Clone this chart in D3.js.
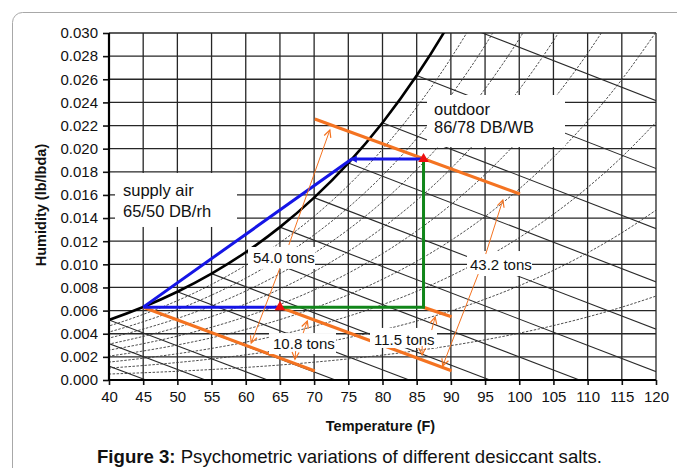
<!DOCTYPE html>
<html>
<head>
<meta charset="utf-8">
<script src="https://cdn.jsdelivr.net/npm/d3@7"></script>
<style>
  html, body { margin: 0; padding: 0; background: #ffffff; }
  svg text { font-family: "Liberation Sans", Arial, Helvetica, sans-serif; }
</style>
</head>
<body>
<script>
// ---------------- data ----------------
const xTicks = [40, 45, 50, 55, 60, 65, 70, 75, 80, 85, 90, 95, 100, 105, 110, 115, 120];
const yTicks = [0.000, 0.002, 0.004, 0.006, 0.008, 0.010, 0.012, 0.014, 0.016, 0.018, 0.020, 0.022, 0.024, 0.026, 0.028, 0.030];

// saturation table (dry-bulb F, saturation vapour pressure psia)
const satTemps    = [30, 35, 40, 45, 50, 55, 60, 65, 70, 75, 80, 85, 90, 95, 100, 105, 110, 115, 120];
const satPressure = [0.0808, 0.09998, 0.12173, 0.14756, 0.17811, 0.21413, 0.25639, 0.30579, 0.36334,
                     0.43016, 0.50745, 0.59659, 0.69904, 0.81643, 0.95052, 1.1032, 1.2767, 1.4730, 1.6945];
const rhLevels = [0.1, 0.2, 0.3, 0.4, 0.5, 0.6, 0.7, 0.8, 0.9];

// wet-bulb lines: start temp on saturation curve, dry-bulb temp where W reaches 0
const wbTemps     = [30, 35, 40, 45, 50, 55, 60, 65, 70, 75, 80, 85, 90];
const wbZeroTemps = [45.4, 54.1, 63.2, 73.1, 83.9, 95.7, 108.8, 123.2, 139.3, 157.2, 177.2, 199.7, 225.0];

// process lines (temperature F, humidity lb/lbda)
const bluePathA  = [[45, 0.0063], [75.5, 0.0191], [86, 0.0191]];
const bluePathB  = [[45, 0.0063], [65, 0.0063]];
const greenPath  = [[65, 0.0063], [86, 0.0063], [86, 0.0191]];
const orangeLines = [
  [[70.1, 0.02257], [100.1, 0.01608]],
  [[45, 0.0063], [70.1, 0.00078]],
  [[65, 0.0063], [90.1, 0.0008]],
  [[85.9, 0.0063], [90.1, 0.00547]]
];
const statePoints = [[65, 0.0063], [86, 0.0191]];

// annotations
const tonLabels = ["54.0 tons", "43.2 tons", "10.8 tons", "11.5 tons"];
const tonAnchors = [[61.06, 0.01012], [92.80, 0.00951], [63.99, 0.00268], [78.76, 0.00303]];
const tonBoxes = [[60.33, 0.01150, 70.13, 0.00960], [92.36, 0.01115, 101.87, 0.00899],
                  [63.40, 0.00406, 73.20, 0.00225], [78.17, 0.00450, 87.97, 0.00277]];
const tonArrows = [
  [[66.3, 0.01167], [72.3, 0.02161]],
  [[65.0, 0.00968], [60.8, 0.0032]],
  [[95.1, 0.01089], [97.6, 0.01556]],
  [[94.0, 0.00916], [88.8, 0.00121]],
  [[68.4, 0.00406], [69.0, 0.0051]],
  [[67.3, 0.0025], [67.2, 0.0018]],
  [[87.2, 0.00432], [87.7, 0.00545]],
  [[85.8, 0.00294], [85.8, 0.00216]]
];
const stateLabels = [["supply air", "65/50 DB/rh"], ["outdoor", "86/78 DB/WB"]];
const stateAnchors = [[42.05, 0.01591], [87.53, 0.02291]];
const stateBoxes = [[40.88, 0.01790, 58.72, 0.01323], [86.51, 0.02464, 106.69, 0.02014]];

const xTitle = "Temperature (F)";
const yTitle = "Humidity (lb/lbda)";
const captionBold = "Figure 3:";
const captionText = " Psychometric variations of different desiccant salts.";

// ---------------- drawing ----------------
const W = 677, H = 468;
const plot = { left: 109, right: 656, top: 33, bottom: 380 };
const ORANGE = "#f47321", BLUE = "#1515e6", GREEN = "#11861a";

const x = d3.scaleLinear().domain([40, 120]).range([plot.left, plot.right]);
const y = d3.scaleLinear().domain([0, 0.030]).range([plot.bottom, plot.top]);

const svg = d3.select("body").append("svg").attr("width", W).attr("height", H);

// outer frame
svg.append("rect").attr("x", 12.5).attr("y", 12.5).attr("width", 740).attr("height", 520)
  .attr("rx", 10).attr("fill", "none").attr("stroke", "#a8a8a8").attr("stroke-width", 1);

const defs = svg.append("defs");
defs.append("clipPath").attr("id", "plotClip").append("rect")
  .attr("x", plot.left).attr("y", plot.top)
  .attr("width", plot.right - plot.left).attr("height", plot.bottom - plot.top);
defs.append("marker").attr("id", "openArrow").attr("viewBox", "-9 -5 11 10")
  .attr("refX", 0).attr("refY", 0).attr("markerWidth", 11).attr("markerHeight", 10)
  .attr("markerUnits", "userSpaceOnUse").attr("orient", "auto")
  .append("path").attr("d", "M-7,-3.5 L0,0 L-7,3.5").attr("fill", "none")
  .attr("stroke", ORANGE).attr("stroke-width", 1.2);

// grid
const grid = svg.append("g");
grid.selectAll("line.v").data(xTicks).join("line")
  .attr("x1", d => x(d)).attr("x2", d => x(d)).attr("y1", plot.top).attr("y2", plot.bottom)
  .attr("stroke", "#262626").attr("stroke-width", 1.3);
grid.selectAll("line.h").data(yTicks).join("line")
  .attr("x1", plot.left).attr("x2", plot.right).attr("y1", d => y(d)).attr("y2", d => y(d))
  .attr("stroke", "#262626").attr("stroke-width", 1.3);

const curves = svg.append("g").attr("clip-path", "url(#plotClip)");
const humidityAt = (rh, i) => 0.622 * rh * satPressure[i] / (14.696 - rh * satPressure[i]);
const lineGen = d3.line().x(d => x(d[0])).y(d => y(d[1]));
const curveGen = d3.line().x(d => x(d[0])).y(d => y(d[1])).curve(d3.curveMonotoneX);

// RH curves (dashed)
rhLevels.forEach(rh => {
  const pts = satTemps.map((t, i) => [t, humidityAt(rh, i)]);
  curves.append("path").attr("d", curveGen(pts)).attr("fill", "none")
    .attr("stroke", "#3a3a3a").attr("stroke-width", 0.9).attr("stroke-dasharray", "2.5,1.5");
});

// wet-bulb lines
wbTemps.forEach((t, k) => {
  const i = satTemps.indexOf(t);
  curves.append("path").attr("d", lineGen([[t, humidityAt(1, i)], [wbZeroTemps[k], 0]]))
    .attr("fill", "none").attr("stroke", "#2a2a2a").attr("stroke-width", 1.1);
});

// saturation curve
curves.append("path").attr("d", curveGen(satTemps.map((t, i) => [t, humidityAt(1, i)])))
  .attr("fill", "none").attr("stroke", "#000").attr("stroke-width", 2.6);

// process lines
const proc = svg.append("g");
orangeLines.forEach(l => proc.append("path").attr("d", lineGen(l)).attr("fill", "none")
  .attr("stroke", ORANGE).attr("stroke-width", 3.2));
proc.append("path").attr("d", lineGen(bluePathB)).attr("fill", "none").attr("stroke", BLUE).attr("stroke-width", 3);
proc.append("path").attr("d", lineGen(greenPath)).attr("fill", "none").attr("stroke", GREEN).attr("stroke-width", 3);
proc.append("path").attr("d", lineGen(bluePathA)).attr("fill", "none").attr("stroke", BLUE).attr("stroke-width", 3)
  .attr("stroke-linejoin", "round");
// small blue arrowhead pointing left at the end of the cooling line
proc.append("path").attr("d", d3.symbol(d3.symbolTriangle).size(22)())
  .attr("transform", `translate(${x(bluePathA[1][0]) + 3},${y(bluePathA[1][1])}) rotate(-90)`)
  .attr("fill", BLUE);

// white label boxes
const boxes = svg.append("g");
stateBoxes.concat(tonBoxes).forEach(b => {
  boxes.append("rect").attr("x", x(b[0])).attr("y", y(b[1]))
    .attr("width", x(b[2]) - x(b[0])).attr("height", y(b[3]) - y(b[1])).attr("fill", "#fff");
});

// leader arrows
tonArrows.forEach(a => {
  svg.append("path").attr("d", lineGen(a)).attr("fill", "none")
    .attr("stroke", ORANGE).attr("stroke-width", 1).attr("marker-end", "url(#openArrow)");
});

// state point markers
statePoints.forEach(p => {
  svg.append("path").attr("d", d3.symbol(d3.symbolTriangle).size(48)())
    .attr("transform", `translate(${x(p[0])},${y(p[1])})`).attr("fill", "#ee1010");
});

// labels
const lineGaps = [20.7, 18.3];
stateLabels.forEach((lines, k) => {
  lines.forEach((s, j) => {
    svg.append("text").attr("x", x(stateAnchors[k][0])).attr("y", y(stateAnchors[k][1]) + j * lineGaps[k])
      .attr("font-size", "16.5px").attr("fill", "#111").text(s);
  });
});
tonLabels.forEach((s, k) => {
  svg.append("text").attr("x", x(tonAnchors[k][0])).attr("y", y(tonAnchors[k][1]))
    .attr("font-size", "15px").attr("fill", "#111").text(s);
});

// axes
const yAxis = svg.append("g").attr("transform", `translate(${plot.left},0)`)
  .call(d3.axisLeft(y).tickValues(yTicks).tickFormat(d3.format(".3f")).tickSize(6).tickPadding(5));
const xAxis = svg.append("g").attr("transform", `translate(0,${plot.bottom})`)
  .call(d3.axisBottom(x).tickValues(xTicks).tickFormat(d3.format("d")).tickSize(5).tickPadding(6));
[yAxis, xAxis].forEach(g => {
  g.select(".domain").remove();
  g.selectAll(".tick line").attr("stroke", "#111").attr("stroke-width", 1.6);
  g.selectAll(".tick text").attr("font-size", "15px").attr("fill", "#111")
    .attr("font-family", "'Liberation Sans', Arial, sans-serif");
});
svg.append("line").attr("x1", plot.left).attr("x2", plot.left).attr("y1", plot.top).attr("y2", plot.bottom + 1)
  .attr("stroke", "#000").attr("stroke-width", 2.2);
svg.append("line").attr("x1", plot.left - 1).attr("x2", plot.right).attr("y1", plot.bottom).attr("y2", plot.bottom)
  .attr("stroke", "#000").attr("stroke-width", 2.2);

// axis titles
svg.append("text").attr("x", 380.5).attr("y", 431).attr("text-anchor", "middle")
  .attr("font-size", "14.5px").attr("font-weight", "bold").attr("fill", "#111").text(xTitle);
svg.append("text").attr("transform", "translate(46,205) rotate(-90)").attr("text-anchor", "middle")
  .attr("font-size", "14.5px").attr("font-weight", "bold").attr("fill", "#111").text(yTitle);

// caption
const cap = svg.append("text").attr("x", 97).attr("y", 463).attr("font-size", "18.6px").attr("fill", "#111");
cap.append("tspan").attr("font-weight", "bold").text(captionBold);
cap.append("tspan").text(captionText);
</script>
</body>
</html>
